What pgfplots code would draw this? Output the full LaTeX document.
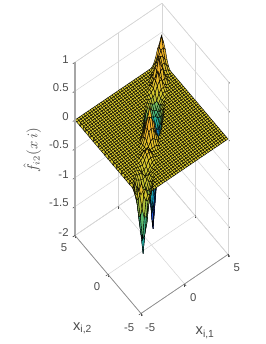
\documentclass[border=0pt]{standalone}
\usepackage{pgfplots}
\pgfplotsset{compat=1.18}
\usepackage{fontspec}
\setmainfont{Liberation Sans}
\definecolor{gridc}{gray}{0.84}
\definecolor{labc}{gray}{0.3}
\begin{document}
\begin{tikzpicture}
\path[use as bounding box] (0,0) rectangle (199.5pt,258pt);
\begin{axis}[
  at={(113.625pt,160.875pt)}, anchor=origin,
  x={(6.525pt,4.425pt)}, y={(-4.95pt,5.85pt)}, z={(0pt,43.3pt)},
  xmin=-5,xmax=5,ymin=-5,ymax=5,zmin=-2,zmax=1,
  clip=false,
  axis line style={draw=gridc,line width=0.4pt},
  grid=major, grid style={draw=gridc,line width=0.4pt},
  xtick={-5,0,5}, ytick={-5,0,5}, ztick={-2,-1.5,-1,-0.5,0,0.5,1},
  xticklabels={-5,0,5}, yticklabels={-5,0,5}, zticklabels={-2,-1.5,-1,-0.5,0,0.5,1},
  tickpos=left, ztick pos=left,
  tick style={draw=labc,line width=0.4pt},
  tick align=outside, major tick length=2pt,
  ticklabel style={font=\fontsize{8.5}{10}\selectfont,text=labc},
  xticklabel style={xshift=2.25pt}, yticklabel style={xshift=-2.25pt},
  xlabel={x\textsubscript{i,1}}, ylabel={x\textsubscript{i,2}},
  zlabel={$\hat{f}_{i2}(x\,i)$},
  xlabel style={at={(axis cs:-1.5,-10.1,-2)},anchor=center,font=\fontsize{11}{13}\selectfont,text=labc},
  ylabel style={at={(axis cs:-10.2,-3,-2)},anchor=center,font=\fontsize{11}{13}\selectfont,text=labc},
  zlabel style={at={(axis cs:-8.1,7.4,-0.53)},anchor=center,rotate=0,font=\fontsize{10.5}{12}\selectfont,text=labc},
  colormap={ridge}{rgb255(0cm)=(40,70,225); rgb255(4cm)=(20,120,220); rgb255(8cm)=(20,160,190); rgb255(12cm)=(40,180,150); rgb255(16cm)=(120,190,90); rgb255(18cm)=(190,190,50); rgb255(20cm)=(215,200,45); rgb255(23cm)=(245,175,40); rgb255(26cm)=(250,210,40)},
  point meta min=-2, point meta max=0.6,
]
\addplot3[surf, shader=faceted, faceted color=black, line width=0.3pt, mesh/cols=41,
  point meta={ifthenelse(and(mod(\coordindex,41)+floor(\coordindex/41)>42,\thisrowno{0}<0),3*\thisrowno{0},\thisrowno{0})}]
 table[row sep=crcr, header=false,
  x expr={-5+0.25*mod(\coordindex,41)}, y expr={-5+0.25*floor(\coordindex/41)}, z index=0] {
.05\\.11\\.11\\-.02\\-.04\\ 0\\0\\0\\0\\0\\ 0\\0\\0\\0\\0\\ 0\\0\\0\\0\\0\\ 0\\0\\0\\0\\0\\ 0\\0\\0\\0\\0\\ 0\\0\\0\\0\\0\\ 0\\0\\0\\0\\0\\ 0\\
.11\\.20\\-.04\\-.16\\-.17\\ -.13\\0\\0\\0\\0\\ 0\\0\\0\\0\\0\\ 0\\0\\0\\0\\0\\ 0\\0\\0\\0\\0\\ 0\\0\\0\\0\\0\\ 0\\0\\0\\0\\0\\ 0\\0\\0\\0\\0\\ 0\\
.11\\-.04\\-.30\\-.48\\-.49\\ -.32\\-.19\\0\\0\\0\\ 0\\0\\0\\0\\0\\ 0\\0\\0\\0\\0\\ 0\\0\\0\\0\\0\\ 0\\0\\0\\0\\0\\ 0\\0\\0\\0\\0\\ 0\\0\\0\\0\\0\\ 0\\
-.02\\-.16\\-.48\\-.90\\-.84\\ -.66\\-.30\\-.11\\0\\0\\ 0\\0\\0\\0\\0\\ 0\\0\\0\\0\\0\\ 0\\0\\0\\0\\0\\ 0\\0\\0\\0\\0\\ 0\\0\\0\\0\\0\\ 0\\0\\0\\0\\0\\ 0\\
-.04\\-.17\\-.49\\-.84\\-1.2\\ -.78\\-.42\\-.17\\-.06\\0\\ 0\\0\\0\\0\\0\\ 0\\0\\0\\0\\0\\ 0\\0\\0\\0\\0\\ 0\\0\\0\\0\\0\\ 0\\0\\0\\0\\0\\ 0\\0\\0\\0\\0\\ 0\\
0\\-.13\\-.32\\-.66\\-.78\\ -.75\\-.47\\-.22\\-.09\\-.04\\ 0\\0\\0\\0\\0\\ 0\\0\\0\\0\\0\\ 0\\0\\0\\0\\0\\ 0\\0\\0\\0\\0\\ 0\\0\\0\\0\\0\\ 0\\0\\0\\0\\0\\ 0\\
0\\0\\-.19\\-.30\\-.42\\ -.47\\-.40\\-.24\\-.11\\-.04\\ -.02\\0\\0\\0\\0\\ 0\\0\\0\\0\\0\\ 0\\0\\0\\0\\0\\ 0\\0\\0\\0\\0\\ 0\\0\\0\\0\\0\\ 0\\0\\0\\0\\0\\ 0\\
0\\0\\0\\-.11\\-.17\\ -.22\\-.24\\-.20\\-.12\\-.05\\ -.04\\-.02\\0\\0\\0\\ 0\\0\\0\\0\\0\\ 0\\0\\0\\0\\0\\ 0\\0\\0\\0\\0\\ 0\\0\\0\\0\\0\\ 0\\0\\0\\0\\0\\ 0\\
0\\0\\0\\0\\-.06\\ -.09\\-.11\\-.12\\-.10\\-.11\\ -.09\\-.02\\-.01\\0\\0\\ 0\\0\\0\\0\\0\\ 0\\0\\0\\0\\0\\ 0\\0\\0\\0\\0\\ 0\\0\\0\\0\\0\\ 0\\0\\0\\0\\0\\ 0\\
0\\0\\0\\0\\0\\ -.04\\-.04\\-.05\\-.11\\-.15\\ -.08\\-.04\\.01\\.02\\0\\ 0\\0\\0\\0\\0\\ 0\\0\\0\\0\\0\\ 0\\0\\0\\0\\0\\ 0\\0\\0\\0\\0\\ 0\\0\\0\\0\\0\\ 0\\
0\\0\\0\\0\\0\\ 0\\-.02\\-.04\\-.09\\-.08\\ -.05\\.03\\.05\\.04\\.02\\ 0\\0\\0\\0\\0\\ 0\\0\\0\\0\\0\\ 0\\0\\0\\0\\0\\ 0\\0\\0\\0\\0\\ 0\\0\\0\\0\\0\\ 0\\
0\\0\\0\\0\\0\\ 0\\0\\-.02\\-.02\\-.04\\ .03\\.10\\.11\\.09\\.02\\ .01\\0\\0\\0\\0\\ 0\\0\\0\\0\\0\\ 0\\0\\0\\0\\0\\ 0\\0\\0\\0\\0\\ 0\\0\\0\\0\\0\\ 0\\
0\\0\\0\\0\\0\\ 0\\0\\0\\-.01\\.01\\ .05\\.11\\.15\\.08\\.04\\ .02\\.01\\0\\0\\0\\ 0\\0\\0\\0\\0\\ 0\\0\\0\\0\\0\\ 0\\0\\0\\0\\0\\ 0\\0\\0\\0\\0\\ 0\\
0\\0\\0\\0\\0\\ 0\\0\\0\\0\\.02\\ .04\\.09\\.08\\.05\\.04\\ .04\\.04\\.04\\0\\0\\ 0\\0\\0\\0\\0\\ 0\\0\\0\\0\\0\\ 0\\0\\0\\0\\0\\ 0\\0\\0\\0\\0\\ 0\\
0\\0\\0\\0\\0\\ 0\\0\\0\\0\\0\\ .02\\.02\\.04\\.04\\.05\\ .12\\.15\\.11\\.08\\0\\ 0\\0\\0\\0\\0\\ 0\\0\\0\\0\\0\\ 0\\0\\0\\0\\0\\ 0\\0\\0\\0\\0\\ 0\\
0\\0\\0\\0\\0\\ 0\\0\\0\\0\\0\\ 0\\.01\\.02\\.04\\.12\\ .25\\.28\\.26\\.15\\.09\\ 0\\0\\0\\0\\0\\ 0\\0\\0\\0\\0\\ 0\\0\\0\\0\\0\\ 0\\0\\0\\0\\0\\ 0\\
0\\0\\0\\0\\0\\ 0\\0\\0\\0\\0\\ 0\\0\\.01\\.04\\.15\\ .28\\.45\\.41\\.31\\.11\\ .02\\0\\0\\0\\0\\ 0\\0\\0\\0\\0\\ 0\\0\\0\\0\\0\\ 0\\0\\0\\0\\0\\ 0\\
0\\0\\0\\0\\0\\ 0\\0\\0\\0\\0\\ 0\\0\\0\\.04\\.11\\ .26\\.41\\.57\\.27\\.05\\ -.06\\-.08\\0\\0\\0\\ 0\\0\\0\\0\\0\\ 0\\0\\0\\0\\0\\ 0\\0\\0\\0\\0\\ 0\\
0\\0\\0\\0\\0\\ 0\\0\\0\\0\\0\\ 0\\0\\0\\0\\.08\\ .15\\.31\\.27\\.10\\-.16\\ -.27\\-.21\\-.15\\0\\0\\ 0\\0\\0\\0\\0\\ 0\\0\\0\\0\\0\\ 0\\0\\0\\0\\0\\ 0\\
0\\0\\0\\0\\0\\ 0\\0\\0\\0\\0\\ 0\\0\\0\\0\\0\\ .09\\.11\\.05\\-.16\\-.50\\ -.60\\-.55\\-.39\\-.23\\0\\ 0\\0\\0\\0\\0\\ 0\\0\\0\\0\\0\\ 0\\0\\0\\0\\0\\ 0\\
0\\0\\0\\0\\0\\ 0\\0\\0\\0\\0\\ 0\\0\\0\\0\\0\\ 0\\.02\\-.06\\-.27\\-.60\\ -1.0\\-1.0\\-.82\\-.49\\-.26\\ 0\\0\\0\\0\\0\\ 0\\0\\0\\0\\0\\ 0\\0\\0\\0\\0\\ 0\\
0\\0\\0\\0\\0\\ 0\\0\\0\\0\\0\\ 0\\0\\0\\0\\0\\ 0\\0\\-.08\\-.21\\-.55\\ -1.0\\-1.5\\-1.32\\-.99\\-.56\\ -.28\\0\\0\\0\\0\\ 0\\0\\0\\0\\0\\ 0\\0\\0\\0\\0\\ 0\\
0\\0\\0\\0\\0\\ 0\\0\\0\\0\\0\\ 0\\0\\0\\0\\0\\ 0\\0\\0\\-.15\\-.39\\ -.82\\-1.32\\-1.8\\-1.48\\-1.04\\ -.51\\-.23\\0\\0\\0\\ 0\\0\\0\\0\\0\\ 0\\0\\0\\0\\0\\ 0\\
0\\0\\0\\0\\0\\ 0\\0\\0\\0\\0\\ 0\\0\\0\\0\\0\\ 0\\0\\0\\0\\-.23\\ -.49\\-.99\\-1.48\\-1.9\\-1.36\\ -.82\\-.39\\-.15\\0\\0\\ 0\\0\\0\\0\\0\\ 0\\0\\0\\0\\0\\ 0\\
0\\0\\0\\0\\0\\ 0\\0\\0\\0\\0\\ 0\\0\\0\\0\\0\\ 0\\0\\0\\0\\0\\ -.26\\-.56\\-1.04\\-1.36\\-1.5\\ -1.0\\-.55\\-.24\\-.09\\0\\ 0\\0\\0\\0\\0\\ 0\\0\\0\\0\\0\\ 0\\
0\\0\\0\\0\\0\\ 0\\0\\0\\0\\0\\ 0\\0\\0\\0\\0\\ 0\\0\\0\\0\\0\\ 0\\-.28\\-.51\\-.82\\-1.0\\ -1.0\\-.64\\-.33\\-.15\\-.06\\ 0\\0\\0\\0\\0\\ 0\\0\\0\\0\\0\\ 0\\
0\\0\\0\\0\\0\\ 0\\0\\0\\0\\0\\ 0\\0\\0\\0\\0\\ 0\\0\\0\\0\\0\\ 0\\0\\-.23\\-.39\\-.55\\ -.64\\-.60\\-.39\\-.20\\-.09\\ -.04\\0\\0\\0\\0\\ 0\\0\\0\\0\\0\\ 0\\
0\\0\\0\\0\\0\\ 0\\0\\0\\0\\0\\ 0\\0\\0\\0\\0\\ 0\\0\\0\\0\\0\\ 0\\0\\0\\-.15\\-.24\\ -.33\\-.39\\-.35\\-.24\\-.15\\ -.06\\-.04\\0\\0\\0\\ 0\\0\\0\\0\\0\\ 0\\
0\\0\\0\\0\\0\\ 0\\0\\0\\0\\0\\ 0\\0\\0\\0\\0\\ 0\\0\\0\\0\\0\\ 0\\0\\0\\0\\-.09\\ -.15\\-.20\\-.24\\-.25\\-.19\\ -.11\\-.04\\-.02\\0\\0\\ 0\\0\\0\\0\\0\\ 0\\
0\\0\\0\\0\\0\\ 0\\0\\0\\0\\0\\ 0\\0\\0\\0\\0\\ 0\\0\\0\\0\\0\\ 0\\0\\0\\0\\0\\ -.06\\-.09\\-.15\\-.19\\-.20\\ -.12\\-.05\\.01\\.02\\0\\ 0\\0\\0\\0\\0\\ 0\\
0\\0\\0\\0\\0\\ 0\\0\\0\\0\\0\\ 0\\0\\0\\0\\0\\ 0\\0\\0\\0\\0\\ 0\\0\\0\\0\\0\\ 0\\-.04\\-.06\\-.11\\-.12\\ -.10\\0\\.05\\.06\\.04\\ 0\\0\\0\\0\\0\\ 0\\
0\\0\\0\\0\\0\\ 0\\0\\0\\0\\0\\ 0\\0\\0\\0\\0\\ 0\\0\\0\\0\\0\\ 0\\0\\0\\0\\0\\ 0\\0\\-.04\\-.04\\-.05\\ 0\\.10\\.16\\.16\\.06\\ .02\\0\\0\\0\\0\\ 0\\
0\\0\\0\\0\\0\\ 0\\0\\0\\0\\0\\ 0\\0\\0\\0\\0\\ 0\\0\\0\\0\\0\\ 0\\0\\0\\0\\0\\ 0\\0\\0\\-.02\\.01\\ .05\\.16\\.30\\.17\\.07\\ .09\\.06\\0\\0\\0\\ 0\\
0\\0\\0\\0\\0\\ 0\\0\\0\\0\\0\\ 0\\0\\0\\0\\0\\ 0\\0\\0\\0\\0\\ 0\\0\\0\\0\\0\\ 0\\0\\0\\0\\.02\\ .06\\.16\\.17\\.12\\.21\\ .24\\.09\\.04\\0\\0\\ 0\\
0\\0\\0\\0\\0\\ 0\\0\\0\\0\\0\\ 0\\0\\0\\0\\0\\ 0\\0\\0\\0\\0\\ 0\\0\\0\\0\\0\\ 0\\0\\0\\0\\0\\ .04\\.06\\.07\\.21\\.42\\ .25\\.11\\.04\\.02\\0\\ 0\\
0\\0\\0\\0\\0\\ 0\\0\\0\\0\\0\\ 0\\0\\0\\0\\0\\ 0\\0\\0\\0\\0\\ 0\\0\\0\\0\\0\\ 0\\0\\0\\0\\0\\ 0\\.02\\.09\\.24\\.25\\ .20\\.13\\.07\\.06\\.04\\ 0\\
0\\0\\0\\0\\0\\ 0\\0\\0\\0\\0\\ 0\\0\\0\\0\\0\\ 0\\0\\0\\0\\0\\ 0\\0\\0\\0\\0\\ 0\\0\\0\\0\\0\\ 0\\0\\.06\\.09\\.11\\ .13\\.12\\.15\\.15\\.09\\ .04\\
0\\0\\0\\0\\0\\ 0\\0\\0\\0\\0\\ 0\\0\\0\\0\\0\\ 0\\0\\0\\0\\0\\ 0\\0\\0\\0\\0\\ 0\\0\\0\\0\\0\\ 0\\0\\0\\.04\\.04\\ .07\\.15\\.25\\.23\\.16\\ .13\\
0\\0\\0\\0\\0\\ 0\\0\\0\\0\\0\\ 0\\0\\0\\0\\0\\ 0\\0\\0\\0\\0\\ 0\\0\\0\\0\\0\\ 0\\0\\0\\0\\0\\ 0\\0\\0\\0\\.02\\ .06\\.15\\.23\\.30\\.32\\ .27\\
0\\0\\0\\0\\0\\ 0\\0\\0\\0\\0\\ 0\\0\\0\\0\\0\\ 0\\0\\0\\0\\0\\ 0\\0\\0\\0\\0\\ 0\\0\\0\\0\\0\\ 0\\0\\0\\0\\0\\ .04\\.09\\.16\\.32\\.50\\ .35\\
0\\0\\0\\0\\0\\ 0\\0\\0\\0\\0\\ 0\\0\\0\\0\\0\\ 0\\0\\0\\0\\0\\ 0\\0\\0\\0\\0\\ 0\\0\\0\\0\\0\\ 0\\0\\0\\0\\0\\ 0\\.04\\.13\\.27\\.35\\ .35\\
};
\draw[draw=gray!110!black,line width=0.5pt] (axis cs:-5,-5,-2) -- (axis cs:5,-5,-2);
\draw[draw=gray!110!black,line width=0.5pt] (axis cs:-5,-5,-2) -- (axis cs:-5,5,-2);
\draw[draw=gray!70,line width=1pt] (axis cs:-5,5,-2) -- (axis cs:-5,5,1);
\end{axis}
\end{tikzpicture}
\end{document}
